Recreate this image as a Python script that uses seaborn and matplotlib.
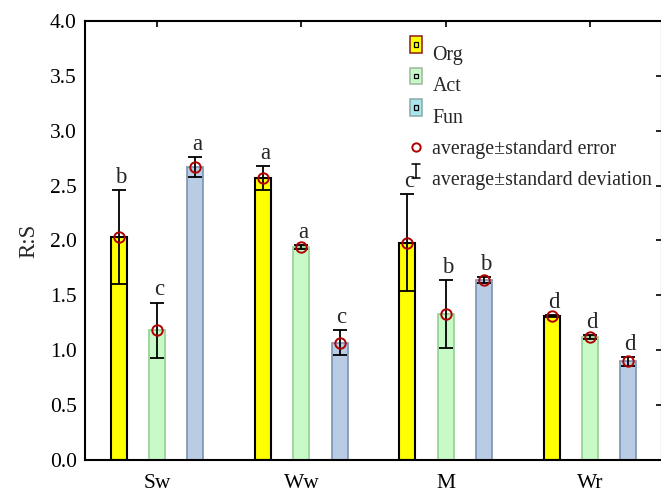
import numpy as np
import pandas as pd
import matplotlib
matplotlib.use("Agg")
import matplotlib.pyplot as plt
import seaborn as sns
from matplotlib.legend_handler import HandlerBase
from matplotlib.patches import Rectangle, Patch
from matplotlib.lines import Line2D

# ---------------- data ----------------
sites = ["Sw", "Ww", "M", "Wr"]
types = ["Org", "Act", "Fun"]
org_mean = [2.03, 2.57, 1.98, 1.31]
act_mean = [1.18, 1.94, 1.33, 1.12]
fun_mean = [2.67, 1.07, 1.64, 0.90]
org_sd = [0.43, 0.11, 0.44, 0.01]
act_sd = [0.255, 0.02, 0.31, 0.02]
fun_sd = [0.09, 0.11, 0.03, 0.04]
org_letters = ["b", "a", "c", "d"]
act_letters = ["c", "a", "b", "d"]
fun_letters = ["a", "c", "b", "d"]
yticks = [0.0, 0.5, 1.0, 1.5, 2.0, 2.5, 3.0, 3.5, 4.0]

means = {"Org": org_mean, "Act": act_mean, "Fun": fun_mean}
sds = {"Org": org_sd, "Act": act_sd, "Fun": fun_sd}
letters = {"Org": org_letters, "Act": act_letters, "Fun": fun_letters}

rows = []
for t in types:
    for s, v in zip(sites, means[t]):
        rows.append({"site": s, "type": t, "value": v})
df = pd.DataFrame(rows)

# ---------------- style ----------------
sns.set_style("white")
plt.rcParams["font.family"] = ["Liberation Serif", "DejaVu Serif"]
FS = 15.5
LFS = 14.3
plt.rcParams["font.size"] = FS

face = {"Org": "#ffff00", "Act": "#c8fac8", "Fun": "#b8cce4"}
edge = {"Org": "#000000", "Act": "#93cf93", "Fun": "#7b93b3"}
elw = {"Org": 1.5, "Act": 1.2, "Fun": 1.2}
leg_face = {"Org": "#ffff00", "Act": "#c8f8c8", "Fun": "#a8e6ec"}
leg_edge = {"Org": "#8b1a1a", "Act": "#9cb89c", "Fun": "#8aa8aa"}

fig = plt.figure(figsize=(6.61, 4.95), dpi=100)
ax = fig.add_axes([85 / 661, 35 / 495, 577 / 661, 439 / 495])

sns.barplot(data=df, x="site", y="value", hue="type", order=sites,
            hue_order=types, palette=[face[t] for t in types],
            width=0.795, gap=0.585, errorbar=None, legend=False,
            saturation=1, ax=ax)

for t, cont in zip(types, ax.containers):
    for i, bar in enumerate(cont):
        bar.set_edgecolor(edge[t])
        bar.set_linewidth(elw[t])
        x = bar.get_x() + bar.get_width() / 2
        m = means[t][i]
        sd = sds[t][i]
        ax.errorbar(x, m, yerr=sd, fmt="none", ecolor="black",
                    elinewidth=1.3, capsize=5, capthick=1.3, zorder=4)
        ax.plot(x, m, "o", mfc="none", mec="#b00000", ms=7.5, mew=1.4, zorder=5)
        ax.annotate(letters[t][i], (x, m + sd), xytext=(1.5, 1.5),
                    textcoords="offset points", ha="center", va="bottom",
                    fontsize=FS + 1)

ax.set_xlim(-0.5, 3.5)
ax.set_ylim(0, 4)
ax.set_yticks(yticks)
ax.set_yticklabels([f"{v:.1f}" for v in yticks])
ax.set_xlabel("")
ax.set_ylabel("R:S", fontsize=FS + 1)
ax.yaxis.set_label_coords(-0.08, 0.5)
ax.tick_params(axis="both", direction="in", top=True, right=True,
               length=4.5, width=1.2, labelsize=FS, colors="black")
ax.tick_params(axis="y", pad=6)
ax.tick_params(axis="x", pad=10)
for sp in ax.spines.values():
    sp.set_linewidth(1.5)
    sp.set_color("black")


# ---------------- legend ----------------
class BoxHandler(HandlerBase):
    def __init__(self, fc, ec):
        super().__init__()
        self.fc, self.ec = fc, ec

    def create_artists(self, legend, orig, xd, yd, width, height, fontsize, trans):
        yc = height / 2 - yd
        h = 12.0
        r = Rectangle((-xd, yc), width, h, facecolor=self.fc, edgecolor=self.ec,
                      lw=1.1, transform=trans)
        s = 3.4
        inner = Rectangle((-xd + width / 2 - s / 2, yc + h / 2 - s / 2), s, s,
                          facecolor=self.fc, edgecolor="black", lw=0.9,
                          transform=trans)
        return [r, inner]


class IBarHandler(HandlerBase):
    def create_artists(self, legend, orig, xd, yd, width, height, fontsize, trans):
        yc = height / 2 - yd
        xc = -xd + width / 2
        h = 10.5
        c = 3.0
        lines = [
            Line2D([xc, xc], [yc, yc + h], color="black", lw=1.1, transform=trans),
            Line2D([xc - c, xc + c], [yc, yc], color="black", lw=1.1, transform=trans),
            Line2D([xc - c, xc + c], [yc + h, yc + h], color="black", lw=1.1, transform=trans),
        ]
        return lines


handles = [Patch(label=t) for t in types]
circ = Line2D([], [], ls="none", marker="o", mfc="none", mec="#b00000",
              ms=6, mew=1.4)
ibar = Line2D([], [], color="black")
handles += [circ, ibar]
labels = types + ["average±standard error", "average±standard deviation"]
hmap = {handles[i]: BoxHandler(leg_face[t], leg_edge[t]) for i, t in enumerate(types)}
hmap[ibar] = IBarHandler()

ax.legend(handles, labels, handler_map=hmap, loc="upper left",
          bbox_to_anchor=(410 / 661, 1 - 46 / 495), bbox_transform=fig.transFigure,
          frameon=False, borderpad=0, borderaxespad=0, handlelength=8.6 / LFS,
          handleheight=0.7, handletextpad=7.5 / LFS, labelspacing=0.62, fontsize=LFS)

fig.savefig("out.png", dpi=100)
